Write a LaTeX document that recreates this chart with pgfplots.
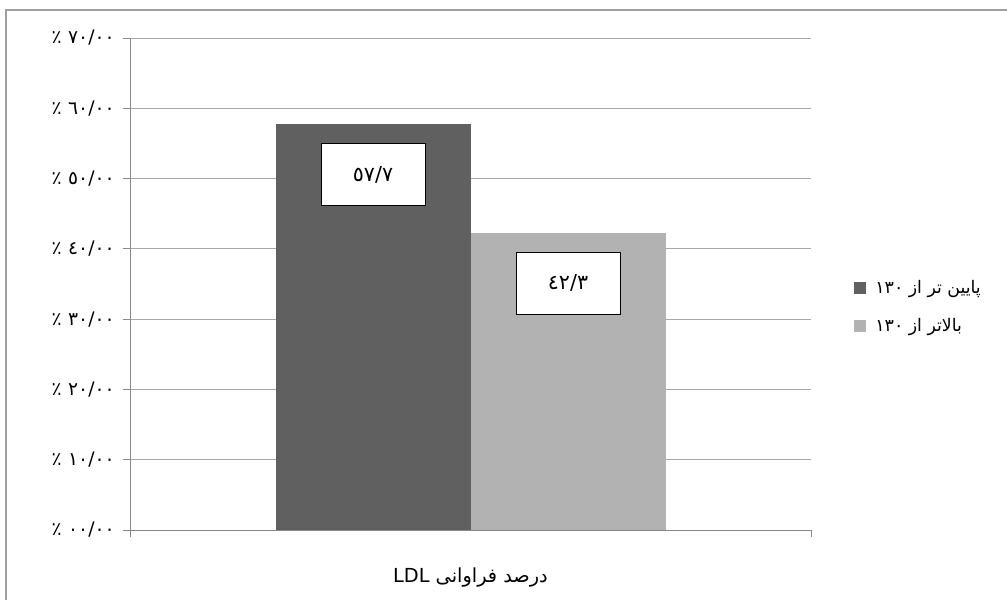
\documentclass[border=0pt]{standalone}
\usepackage{fontspec}
\setmainfont{DejaVu Sans}
\newfontfamily\arabicfont[Script=Arabic]{DejaVu Sans}
\TeXXeTstate=1
\usepackage{pgfplots}
\pgfplotsset{compat=1.18}
\definecolor{darkbar}{HTML}{606060}
\definecolor{lightbar}{HTML}{B2B2B2}
\definecolor{gridc}{HTML}{A8A8A8}
\definecolor{axisc}{HTML}{888888}
\definecolor{framec}{HTML}{A0A0A0}
\newcommand{\pct}[1]{\beginR #1\hspace{5pt}٪\endR}
\begin{document}
\begin{tikzpicture}
\useasboundingbox (0,0) rectangle (755.25pt,450pt);
\draw[framec, line width=1.5pt] (4.5pt,0pt) -- (4.5pt,442.5pt) -- (756pt,442.5pt);
\begin{axis}[
  at={(97.5pt,52.5pt)}, anchor=south west,
  scale only axis, width=510.75pt, height=369pt,
  xmin=-0.5, xmax=0.5, ymin=0, ymax=70,
  ybar=0pt, bar width=146.25pt,
  xtick={-0.5,0.5}, xticklabels={},
  ytick={0,10,...,70},
  yticklabels={\pct{٠٠/٠٠}, \pct{١٠/٠٠}, \pct{٢٠/٠٠}, \pct{٣٠/٠٠},
    \pct{٤٠/٠٠}, \pct{٥٠/٠٠}, \pct{٦٠/٠٠}, \pct{٧٠/٠٠}},
  yticklabel style={font=\arabicfont\fontsize{14}{16}\selectfont, text=black, xshift=-2.5pt},
  tick align=outside, major tick length=5.5pt,
  tick style={axisc, line width=0.75pt},
  axis x line*=bottom, axis y line*=left,
  axis line style={axisc, line width=0.75pt, -},
  ymajorgrids, grid style={gridc, line width=0.75pt},
  xlabel={\arabicfont\beginR درصد فراوانی \beginL LDL\endL\endR},
  xlabel style={at={(axis description cs:0.5,0)}, anchor=center, yshift=-36pt,
    font=\fontsize{14.5}{16}\selectfont},
  legend style={at={(1.057,0.453)}, anchor=west, draw=none, fill=none,
    font=\arabicfont\fontsize{13}{15}\selectfont, row sep=13pt, column sep=5pt},
  legend cell align=left,
  legend image code/.code={\fill[#1] (0pt,-4.5pt) rectangle (9pt,4.5pt);},
  every node near coord/.append style={anchor=north, yshift=-14.25pt,
    fill=white, draw=black, line width=0.75pt, text=black,
    minimum width=78pt, minimum height=46.5pt,
    font=\arabicfont\fontsize{15.5}{17}\selectfont},
]
\addplot[fill=darkbar, draw=none, nodes near coords={٥٧/٧}] coordinates {(0,57.7)};
\addlegendentry{\beginR پایین تر از ١٣٠\endR}
\addplot[fill=lightbar, draw=none, nodes near coords={٤٢/٣}] coordinates {(0,42.3)};
\addlegendentry{\beginR بالاتر از ١٣٠\endR}
\end{axis}
\end{tikzpicture}
\end{document}
